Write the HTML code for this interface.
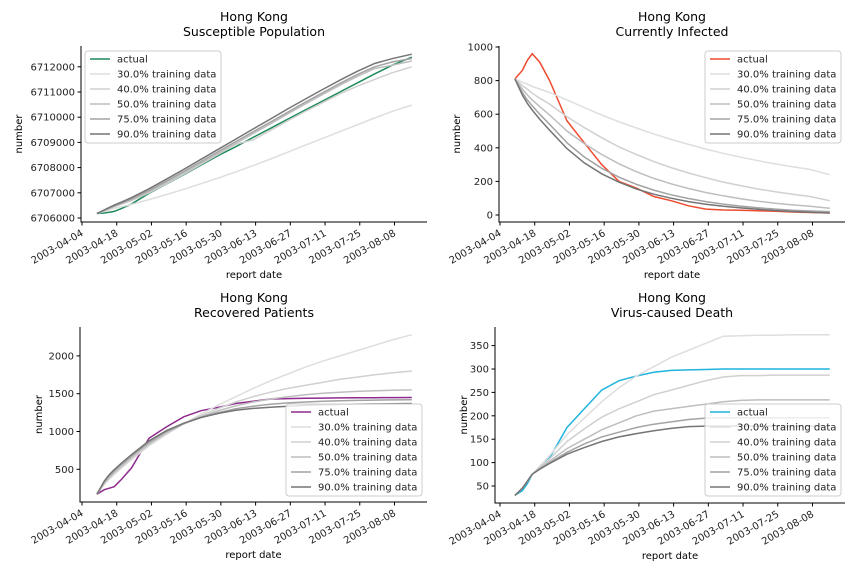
<!DOCTYPE html>
<html><head><meta charset="utf-8"><style>
body{margin:0;background:#fff;}
svg{display:block;font-family:"DejaVu Sans","Liberation Sans",sans-serif;}
</style></head><body>
<svg id="fig" width="864" height="576" viewBox="0 0 864 576"></svg>
<script>
const days=[6,9,11,13,16,20,27,34,41,48,55,62,69,76,83,90,97,104,111,118,125,133];
const dateTicks=["2003-04-04","2003-04-18","2003-05-02","2003-05-16","2003-05-30","2003-06-13","2003-06-27","2003-07-11","2003-07-25","2003-08-08"];
const seriesNames=["actual","30.0% training data","40.0% training data","50.0% training data","75.0% training data","90.0% training data"];
const greyColors=["#dedede","#d0d0d0","#bebebe","#a3a3a3","#757575"];

const susActual=[6706180,6706200,6706230,6706260,6706380,6706560,6706980,6707350,6707720,6708100,6708480,6708830,6709200,6709560,6709920,6710280,6710640,6711000,6711360,6711720,6712060,6712380];
const sus30=[6706180,6706260,6706320,6706380,6706450,6706540,6706730,6706930,6707140,6707360,6707590,6707830,6708080,6708340,6708610,6708890,6709160,6709430,6709700,6709970,6710230,6710480];
const sus40=[6706180,6706290,6706370,6706440,6706550,6706690,6707000,6707360,6707740,6708130,6708530,6708930,6709100,6709480,6709860,6710230,6710580,6710930,6711230,6711500,6711760,6712000];
const sus50=[6706180,6706300,6706380,6706460,6706570,6706720,6707040,6707410,6707790,6708180,6708570,6708960,6709350,6709740,6710130,6710520,6710900,6711270,6711620,6711930,6712060,6712230];
const sus75=[6706180,6706310,6706400,6706480,6706600,6706760,6707090,6707460,6707850,6708240,6708640,6709030,6709420,6709810,6710200,6710590,6710970,6711340,6711690,6712000,6712190,6712330];
const sus90=[6706180,6706320,6706420,6706510,6706640,6706810,6707160,6707540,6707930,6708330,6708730,6709130,6709530,6709930,6710330,6710720,6711100,6711470,6711820,6712130,6712320,6712500];

const infActual=[810,860,920,960,910,800,560,430,300,200,160,110,85,55,35,30,28,25,22,18,15,12];
const inf30=[810,790,780,765,750,730,685,640,595,555,518,483,450,420,392,367,344,323,304,287,271,240];
const inf40=[810,770,750,725,695,660,585,520,460,405,360,318,282,250,222,196,175,155,138,123,110,85];
const inf50=[810,750,715,685,645,595,500,425,360,305,258,218,186,158,134,114,97,82,70,60,52,40];
const inf75=[810,730,685,650,600,540,430,345,278,225,182,148,120,98,80,65,53,43,35,28,24,20];
const inf90=[810,715,665,625,570,505,395,310,245,195,155,124,100,80,64,52,42,34,27,21,16,12];

const recActual=[170,230,250,270,370,520,910,1060,1195,1275,1320,1370,1400,1430,1435,1440,1442,1444,1446,1447,1448,1450];
const rec30=[170,300,370,430,520,630,810,960,1100,1230,1350,1460,1570,1670,1760,1850,1930,2000,2070,2140,2210,2280];
const rec40=[170,310,385,445,535,645,825,975,1100,1210,1305,1390,1460,1520,1570,1610,1650,1690,1720,1750,1775,1800];
const rec50=[170,320,400,460,550,660,840,985,1100,1195,1275,1340,1390,1430,1460,1485,1505,1520,1530,1538,1545,1550];
const rec75=[170,335,415,480,570,680,860,1000,1105,1185,1250,1300,1335,1360,1378,1390,1400,1406,1411,1415,1418,1420];
const rec90=[170,345,430,495,585,695,875,1010,1110,1185,1240,1280,1305,1322,1335,1345,1352,1358,1362,1365,1368,1370];

const detActual=[30,40,55,75,90,110,175,215,255,275,285,293,297,298,299,300,300,300,300,300,300,300];
const det30=[30,45,60,75,92,115,160,195,230,260,285,305,325,340,355,370,371,372,372,373,373,373];
const det40=[30,45,60,75,90,108,145,172,197,215,230,245,255,265,275,283,286,286,287,287,287,287];
const det50=[30,45,60,75,88,103,130,150,170,185,200,210,215,220,225,230,233,234,234,234,234,234];
const det75=[30,45,60,75,87,100,122,140,155,165,175,182,187,192,195,196,196,196,196,196,196,196];
const det90=[30,45,60,75,86,98,118,132,145,155,162,168,173,177,178,178,178,178,178,178,178,178];

const yTicksSus=[6706000,6707000,6708000,6709000,6710000,6711000,6712000];
const yTicksInf=[0,200,400,600,800,1000];
const yTicksRec=[500,1000,1500,2000];
const yTicksDet=[50,100,150,200,250,300,350];

const NS="http://www.w3.org/2000/svg";
const svg=document.getElementById('fig');
function el(tag,attrs,parent){const e=document.createElementNS(NS,tag);for(const k in attrs)e.setAttribute(k,attrs[k]);(parent||svg).appendChild(e);return e;}

function chart(cfg){
  const g=el('g',{});
  
  
  const xs=d=>cfg.x0+d*2.48;
  const ys=v=>cfg.yRef-(v-cfg.vRef)*cfg.k;
  const t1=el('text',{x:cfg.cx,y:cfg.top-25,'text-anchor':'middle','font-size':12.5,fill:'#000'},g);t1.textContent='Hong Kong';
  
  const t2=el('text',{x:cfg.cx,y:cfg.top-10,'text-anchor':'middle','font-size':12.5,fill:'#000'},g);t2.textContent=cfg.title;
  
  const sp=el('path',{d:`M${cfg.left} ${cfg.top}V${cfg.bottom}H${cfg.right}`,stroke:'#000',fill:'none','stroke-width':1},g);
  
  dateTicks.forEach((lab,i)=>{
    const x=xs(i*14);
    el('line',{x1:x,x2:x,y1:cfg.bottom,y2:cfg.bottom+3.5,stroke:'#000'},g);
    const tx=el('text',{x:x+2,y:cfg.bottom+13,'text-anchor':'end','font-size':10,fill:'#222',transform:`rotate(-30 ${x+2} ${cfg.bottom+13})`},g);
    tx.textContent=lab;
    
  });
  cfg.yTicks.forEach(v=>{
    const y=ys(v);
    el('line',{x1:cfg.left-3.5,x2:cfg.left,y1:y,y2:y,stroke:'#000'},g);
    const ty=el('text',{x:cfg.left-6,y:y+3.5,'text-anchor':'end','font-size':10,fill:'#222'},g);
    ty.textContent=v;
    
  });
  const xl=el('text',{x:(cfg.left+cfg.right)/2,y:cfg.bottom+56,'text-anchor':'middle','font-size':10,fill:'#000'},g);xl.textContent='report date';
  
  const yl=el('text',{x:cfg.ylx,y:(cfg.top+cfg.bottom)/2,'text-anchor':'middle','font-size':10,fill:'#000',transform:`rotate(-90 ${cfg.ylx} ${(cfg.top+cfg.bottom)/2})`},g);yl.textContent='number';
  
  const colors=[cfg.color].concat(greyColors);
  cfg.series.forEach((arr,si)=>{
    const d=arr.map((v,i)=>(i?'L':'M')+xs(days[i]).toFixed(1)+' '+ys(v).toFixed(1)).join('');
    const p=el('path',{d:d,fill:'none',stroke:colors[si],'stroke-width':1.5},g);
    
  });
  const L=el('g',{},g);
  
  el('rect',{x:cfg.lx,y:cfg.ly,width:136,height:92,rx:3,fill:'rgba(255,255,255,0.8)',stroke:'#ccc'},L);
  seriesNames.forEach((n,i)=>{
    const y=cfg.ly+8+i*15;
    el('line',{x1:cfg.lx+5,x2:cfg.lx+25,y1:y,y2:y,stroke:colors[i],'stroke-width':1.5},L);
    const lt=el('text',{x:cfg.lx+32,y:y+3.5,'font-size':10,fill:'#222'},L);lt.textContent=n;
    
  });
}

chart({name:'susceptible-chart',title:'Susceptible Population',x0:82,left:81,right:427,top:46,bottom:222,cx:254,yRef:218,vRef:6706000,k:0.0252,yTicks:yTicksSus,ylx:22,color:'#1f8a5a',series:[susActual,sus30,sus40,sus50,sus75,sus90],lx:85,ly:51});
chart({name:'infected-chart',title:'Currently Infected',x0:500,left:499,right:845,top:46,bottom:222,cx:672,yRef:215,vRef:0,k:0.168,yTicks:yTicksInf,ylx:460,color:'#ee4b2f',series:[infActual,inf30,inf40,inf50,inf75,inf90],lx:705,ly:51});
chart({name:'recovered-chart',title:'Recovered Patients',x0:82,left:80,right:427,top:327,bottom:502,cx:254,yRef:469.3,vRef:500,k:0.0756,yTicks:yTicksRec,ylx:42,color:'#8e2a8e',series:[recActual,rec30,rec40,rec50,rec75,rec90],lx:286,ly:404});
chart({name:'deaths-chart',title:'Virus-caused Death',x0:500,left:495,right:845,top:327,bottom:503,cx:672,yRef:486,vRef:50,k:0.468,yTicks:yTicksDet,ylx:467,color:'#1fb4dc',series:[detActual,det30,det40,det50,det75,det90],lx:705,ly:404});
</script>
</body></html>
